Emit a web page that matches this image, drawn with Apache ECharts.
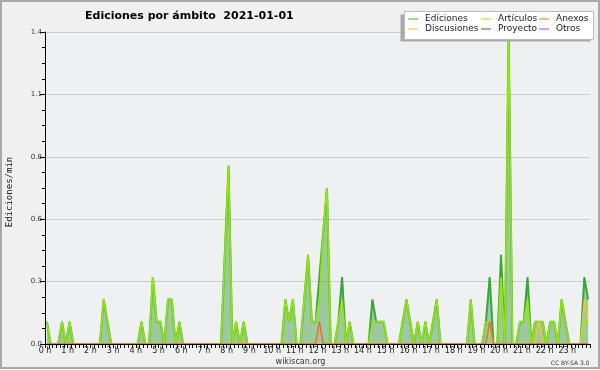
<!DOCTYPE html>
<html>
<head>
<meta charset="utf-8">
<script src="https://cdn.jsdelivr.net/npm/echarts@6/dist/echarts.min.js"></script>
<style>
html,body{margin:0;padding:0;background:#f0f0f0;}
#chart{width:600px;height:370px;}
</style>
</head>
<body>
<div id="chart"></div>
<script>
// 10-minute bins, values in edits per minute
const ediciones = [
  0.1,0,0,0,0.1,0,0.1,0,0,0,0,0,
  0,0,0,0.2,0.1,0,0,0,0,0,0,0,
  0,0.1,0,0,0.3,0.1,0.1,0,0.2,0.2,0,0.1,
  0,0,0,0,0,0,0,0,0,0,0,0.4,
  0.8,0,0.1,0,0.1,0,0,0,0,0,0,0,
  0,0,0,0.2,0.1,0.2,0,0,0.2,0.4,0.1,0.1,
  0.3,0.5,0.7,0,0,0.1,0.3,0,0.1,0,0,0,
  0,0,0.2,0.1,0.1,0.1,0,0,0,0,0.1,0.2,
  0.1,0,0.1,0,0.1,0,0.1,0.2,0,0,0,0,
  0,0,0,0,0.2,0,0,0,0.1,0.3,0,0,
  0.4,0,1.4,0,0,0.1,0.1,0.3,0,0.1,0.1,0.1,
  0,0.1,0.1,0,0.2,0.1,0,0,0,0,0.3,0.2
];
const articulos = [
  0.1,0,0,0,0.1,0,0.1,0,0,0,0,0,
  0,0,0,0.2,0.1,0,0,0,0,0,0,0,
  0,0.1,0,0,0.3,0.1,0.1,0,0.2,0.2,0,0.1,
  0,0,0,0,0,0,0,0,0,0,0,0.4,
  0.8,0,0.1,0,0.1,0,0,0,0,0,0,0,
  0,0,0,0.2,0.1,0.2,0,0,0.2,0.4,0.1,0.1,
  0.2,0.5,0.7,0,0,0.1,0.2,0,0.1,0,0,0,
  0,0,0.1,0.1,0.1,0.1,0,0,0,0,0.1,0.2,
  0.1,0,0.1,0,0.1,0,0.1,0.2,0,0,0,0,
  0,0,0,0,0.2,0,0,0,0.1,0.1,0,0,
  0.3,0,1.4,0,0,0.1,0.1,0.2,0,0.1,0.1,0.1,
  0,0.1,0.1,0,0.2,0.1,0,0,0,0,0.1,0.1
];
const anexos = [
  0,0,0,0,0,0,0,0,0,0,0,0,
  0,0,0,0,0,0,0,0,0,0,0,0,
  0,0,0,0,0,0,0,0,0,0,0,0,
  0,0,0,0,0,0,0,0,0,0,0,0,
  0,0,0,0,0,0,0,0,0,0,0,0,
  0,0,0,0,0,0,0,0,0,0,0,0,
  0.1,0,0,0,0,0,0,0,0,0,0,0,
  0,0,0,0,0,0,0,0,0,0,0,0,
  0,0,0,0,0,0,0,0,0,0,0,0,
  0,0,0,0,0,0,0,0,0,0.1,0,0,
  0,0,0,0,0,0,0,0,0,0,0,0,
  0,0,0,0,0,0,0,0,0,0,0,0
];
const discusiones = [
  0,0,0,0,0,0,0,0,0,0,0,0,
  0,0,0,0,0,0,0,0,0,0,0,0,
  0,0,0,0,0,0,0,0,0,0,0,0,
  0,0,0,0,0,0,0,0,0,0,0,0,
  0,0,0,0,0,0,0,0,0,0,0,0,
  0,0,0,0,0,0,0,0,0,0,0,0,
  0,0,0,0,0,0,0,0,0,0,0,0,
  0,0,0,0,0,0,0,0,0,0,0,0,
  0,0,0,0,0,0,0,0,0,0,0,0,
  0,0,0,0,0,0,0,0,0,0,0,0,
  0,0,0,0,0,0,0,0,0,0,0.1,0,
  0,0,0,0,0,0,0,0,0,0,0.2,0.1
];
const proyecto = [
  0,0,0,0,0,0,0,0,0,0,0,0, 0,0,0,0,0,0,0,0,0,0,0,0,
  0,0,0,0,0,0,0,0,0,0,0,0, 0,0,0,0,0,0,0,0,0,0,0,0,
  0,0,0,0,0,0,0,0,0,0,0,0, 0,0,0,0,0,0,0,0,0,0,0,0,
  0,0,0,0,0,0,0,0,0,0,0,0, 0,0,0,0,0,0,0,0,0,0,0,0,
  0,0,0,0,0,0,0,0,0,0,0,0, 0,0,0,0,0,0,0,0,0,0,0,0,
  0,0,0,0,0,0,0,0,0,0,0,0, 0,0,0,0,0,0,0,0,0,0,0,0
];
const otros = [
  0,0,0,0,0,0,0,0,0,0,0,0, 0,0,0,0,0,0,0,0,0,0,0,0,
  0,0,0,0,0,0,0,0,0,0,0,0, 0,0,0,0,0,0,0,0,0,0,0,0,
  0,0,0,0,0,0,0,0,0,0,0,0, 0,0,0,0,0,0,0,0,0,0,0,0,
  0,0,0,0,0,0,0,0,0,0,0,0, 0,0,0,0,0,0,0,0,0,0,0,0,
  0,0,0,0,0,0,0,0,0,0,0,0, 0,0,0,0,0,0,0,0,0,0,0,0,
  0,0,0,0,0,0,0,0,0,0,0,0, 0,0,0,0,0,0,0,0,0,0,0,0
];
const hourLabels = ['0 h','1 h','2 h','3 h','4 h','5 h','6 h','7 h','8 h','9 h','10 h','11 h',
  '12 h','13 h','14 h','15 h','16 h','17 h','18 h','19 h','20 h','21 h','22 h','23 h'];
const yTicks = [0, 0.28, 0.56, 0.84, 1.12, 1.4];

// bin centre in minutes of the day
const binMinutes = ediciones.map((_, i) => i * 10 + 5);
const pairs = arr => arr.map((v, i) => [binMinutes[i], v]);

const FONT = 'DejaVu Sans';
const chart = echarts.init(document.getElementById('chart'), null, {renderer: 'canvas'});

function lineSeries(name, data, color, width, z, area) {
  const s = {
    name, type: 'line', data: pairs(data), symbol: 'none', z,
    lineStyle: {color, width}, itemStyle: {color}, emphasis: {disabled: true}
  };
  if (area) s.areaStyle = {color: area, opacity: 1};
  return s;
}

chart.setOption({
  animation: false,
  backgroundColor: '#f0f0f0',
  grid: {left: 45, right: 10, top: 32, bottom: 26, show: true, backgroundColor: '#eef0f2', borderWidth: 0},
  xAxis: {
    type: 'value', min: 0, max: 1440, interval: 60, z: 10,
    axisLine: {lineStyle: {color: '#000', width: 1}},
    axisTick: {show: true, length: 4, lineStyle: {color: '#000'}},
    minorTick: {show: true, splitNumber: 6, length: 4, lineStyle: {color: '#000'}},
    splitLine: {show: false},
    axisLabel: {fontFamily: FONT, fontSize: 8, color: '#222', margin: 3,
      formatter: v => hourLabels[Math.round(v / 60)] || ''}
  },
  yAxis: {
    type: 'value', min: yTicks[0], max: yTicks[yTicks.length - 1], interval: yTicks[1],
    axisLine: {show: true, lineStyle: {color: '#000', width: 1}},
    axisTick: {show: true, length: 5, lineStyle: {color: '#000'}},
    minorTick: {show: true, splitNumber: 4, length: 3, lineStyle: {color: '#000'}},
    splitLine: {show: true, lineStyle: {color: '#cccccc', width: 1}},
    axisLabel: {fontFamily: FONT, fontSize: 7, color: '#333', margin: 3,
      formatter: v => v.toFixed(1)}
  },
  legend: [
    {left: 408, top: 14, orient: 'vertical', data: ['Ediciones', 'Discusiones']},
    {left: 481, top: 14, orient: 'vertical', data: ['Artículos', 'Proyecto']},
    {left: 539, top: 14, orient: 'vertical', data: ['Anexos', 'Otros']}
  ].map(l => Object.assign(l, {
    z: 6, padding: 0, itemGap: 0, itemWidth: 10, itemHeight: 1, icon: 'rect', selectedMode: false,
    textStyle: {fontFamily: FONT, fontSize: 9, color: '#222', lineHeight: 10, padding: [0, 0, 0, 2]}
  })),
  graphic: [
    {type: 'rect', z: 0, silent: true, shape: {x: 1, y: 1, width: 598, height: 367},
      style: {fill: 'none', stroke: '#a8a8a8', lineWidth: 2}},
    {type: 'rect', z: 3, silent: true, shape: {x: 400.5, y: 14.5, width: 190, height: 27},
      style: {fill: '#aaaaaa'}},
    {type: 'rect', z: 3, silent: true, shape: {x: 404.5, y: 11.5, width: 189, height: 28},
      style: {fill: '#ffffff', stroke: '#bbbbbb', lineWidth: 1}},
    {type: 'text', z: 5, silent: true, x: 85, y: 16,
      style: {text: 'Ediciones por ámbito  2021-01-01', font: 'bold 11px "DejaVu Sans"', fill: '#000',
        textAlign: 'left', textVerticalAlign: 'middle'}},
    {type: 'text', z: 5, silent: true, x: 9.5, y: 192, rotation: Math.PI / 2,
      style: {text: 'Ediciones/min', font: '9px "DejaVu Sans Mono"', fill: '#111',
        textAlign: 'center', textVerticalAlign: 'middle'}},
    {type: 'text', z: 5, silent: true, x: 300.5, y: 362,
      style: {text: 'wikiscan.org', font: '8px "DejaVu Sans"', fill: '#333',
        textAlign: 'center', textVerticalAlign: 'middle'}},
    {type: 'text', z: 5, silent: true, x: 589.5, y: 363,
      style: {text: 'CC BY-SA 3.0', font: '6px "DejaVu Sans"', fill: '#333',
        textAlign: 'right', textVerticalAlign: 'middle'}}
  ],
  series: [
    lineSeries('Ediciones', ediciones, '#3aa63a', 2, 2, 'rgba(90,170,90,0.55)'),
    lineSeries('Artículos', articulos, '#96e60a', 1.6, 2),
    lineSeries('Proyecto', proyecto, '#555555', 1, 2),
    lineSeries('Otros', otros, '#9a4cf0', 1, 2),
    lineSeries('Discusiones', discusiones, '#f2c531', 1.4, 2),
    lineSeries('Anexos', anexos, '#ee6a26', 1.4, 2)
  ]
});
</script>
</body>
</html>
